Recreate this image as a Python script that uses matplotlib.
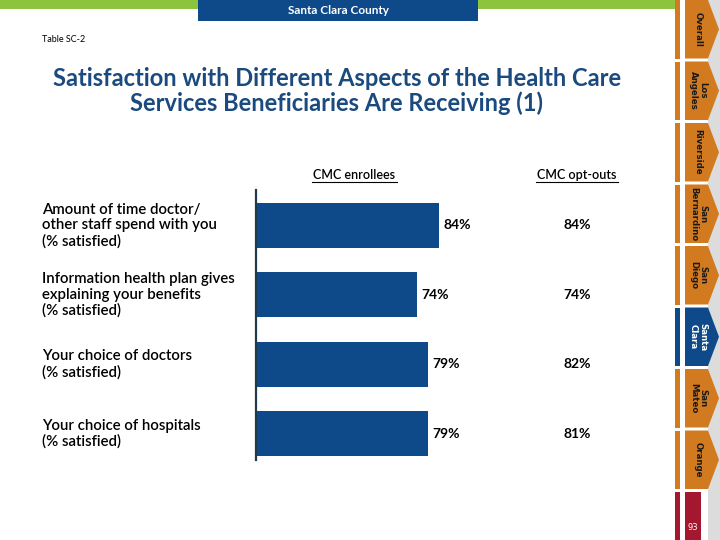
import matplotlib.pyplot as plt
from matplotlib.patches import Rectangle, Polygon

# data
categories = ["Amount of time doctor/\nother staff spend with you\n(% satisfied)",
              "Information health plan gives\nexplaining your benefits\n(% satisfied)",
              "Your choice of doctors\n(% satisfied)",
              "Your choice of hospitals\n(% satisfied)"]
enrollees = [84, 74, 79, 79]
opt_outs = [84, 74, 82, 81]
tabs = ["Overall", "Los\nAngeles", "Riverside", "San\nBernardino", "San\nDiego",
        "Santa\nClara", "San\nMateo", "Orange"]
active_tab = "Santa\nClara"
page_no = "93"

BLUE = "#0E4A8A"
ORANGE = "#D27A1F"
GREEN = "#8CC43F"
RED = "#A3182F"
TITLE = "#1A4A7E"
FONT = "Lato"

fig = plt.figure(figsize=(7.2, 5.4), dpi=100)

# background axes in pixel coords for the slide decoration
bg = fig.add_axes([0, 0, 1, 1])
bg.set_xlim(0, 720)
bg.set_ylim(540, 0)
bg.axis("off")

bg.add_patch(Rectangle((0, 0), 675, 9, color=GREEN, lw=0))
bg.add_patch(Rectangle((198, 0), 280, 21, color=BLUE, lw=0))
bg.text(338, 11, "Santa Clara County", color="white", ha="center", va="center",
        fontsize=8.5, fontweight="bold", family=FONT)
bg.text(42, 40, "Table SC-2", fontsize=6.5, ha="left", va="center", family=FONT)
bg.text(337, 91, "Satisfaction with Different Aspects of the Health Care\n"
        "Services Beneficiaries Are Receiving (1)", color=TITLE, ha="center",
        va="center", fontsize=17, fontweight="bold", family=FONT, linespacing=1.1)

# side navigation tabs
bg.add_patch(Rectangle((708, 0), 12, 540, color="#DCDCDC", lw=0))
pitch, h = 61.5, 58.5
for i, name in enumerate(tabs):
    top = i * pitch
    col = BLUE if name == active_tab else ORANGE
    bg.add_patch(Rectangle((675, top), 5, h, color=col, lw=0))
    bg.add_patch(Polygon([(685, top), (708, top), (719, top + h / 2),
                          (708, top + h), (685, top + h)], closed=True,
                         color=col, lw=0))
    bg.text(698, top + h / 2, name, rotation=-90, ha="center", va="center",
            fontsize=6.2, fontweight="bold", family="DejaVu Sans",
            color="white" if name == active_tab else "#1A1A1A", linespacing=1.0)
bg.add_patch(Rectangle((675, 492), 5, 48, color=RED, lw=0))
bg.add_patch(Rectangle((685, 492), 16, 48, color=RED, lw=0))
bg.text(693, 528, page_no, color="white", ha="center", va="center", fontsize=6,
        family="DejaVu Sans")

# column headers
bg.text(354, 175, "CMC enrollees", ha="center", va="center", fontsize=9,
        family=FONT, fontweight="semibold")
bg.plot([312, 397], [182, 182], color="black", lw=0.8)
bg.text(577, 175, "CMC opt-outs", ha="center", va="center", fontsize=9,
        family=FONT, fontweight="semibold")
bg.plot([536, 618], [182, 182], color="black", lw=0.8)

# bar chart
ax = fig.add_axes([256 / 720, 80 / 540, 218 / 720, 270 / 540])
ax.patch.set_alpha(0)
y = list(range(len(categories)))
ax.barh(y, enrollees, height=0.65, color=BLUE)
ax.set_xlim(0, 100)
ax.set_ylim(3.38, -0.51)
for s in ["top", "right", "bottom"]:
    ax.spines[s].set_visible(False)
ax.spines["left"].set_color("#1F3A4D")
ax.spines["left"].set_linewidth(1.6)
ax.set_xticks([])
ax.set_yticks([])

for i, v in enumerate(enrollees):
    ax.annotate(f"{v}%", (v, i), xytext=(3, 0), textcoords="offset points",
                ha="left", va="center", fontsize=10, fontweight="bold", family=FONT)
for i, v in enumerate(opt_outs):
    ax.text(147.2, i, f"{v}%", ha="center", va="center", fontsize=10,
            fontweight="bold", family=FONT, clip_on=False)

for i, lab in enumerate(categories):
    ax.text(-214 / 2.18, i, lab, ha="left", va="center", fontsize=10.8,
            family=FONT, fontweight="semibold", linespacing=1.15, clip_on=False)

fig.savefig("out.png", dpi=100)
